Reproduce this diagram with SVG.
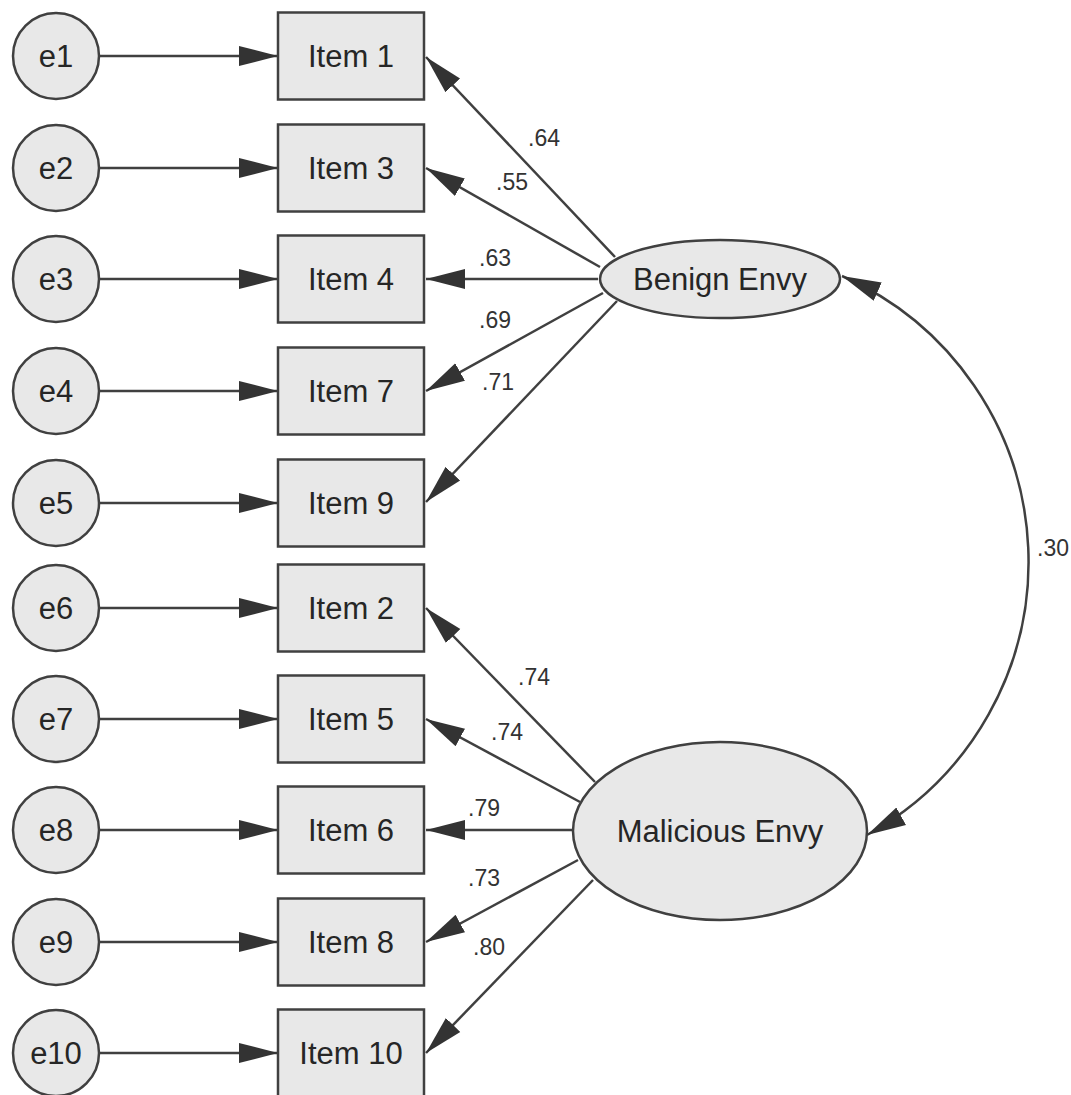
<svg xmlns="http://www.w3.org/2000/svg" width="1071" height="1095" viewBox="0 0 1071 1095">
<style>
.nd{fill:#e8e8e8;stroke:#404040;stroke-width:2.5}
.t{font-family:"Liberation Sans",Arial,sans-serif;font-size:31px;fill:#262626;text-anchor:middle;dominant-baseline:central}
.lb{font-family:"Liberation Sans",Arial,sans-serif;font-size:23px;fill:#333;text-anchor:middle;dominant-baseline:central}
.ln{fill:none;stroke:#404040;stroke-width:2.5}
</style>
<defs>
<marker id="ah" markerUnits="userSpaceOnUse" markerWidth="40" markerHeight="22" viewBox="0 0 40 22" refX="39" refY="11" orient="auto-start-reverse">
<path d="M0,1 L39,11 L0,21 z" fill="#333"/>
</marker>
</defs>
<rect width="1071" height="1095" fill="#fff"/>
<g id="connectors">
<line class="ln" x1="100" y1="56" x2="278" y2="56" marker-end="url(#ah)"/>
<line class="ln" x1="100" y1="168" x2="278" y2="168" marker-end="url(#ah)"/>
<line class="ln" x1="100" y1="279" x2="278" y2="279" marker-end="url(#ah)"/>
<line class="ln" x1="100" y1="391" x2="278" y2="391" marker-end="url(#ah)"/>
<line class="ln" x1="100" y1="503" x2="278" y2="503" marker-end="url(#ah)"/>
<line class="ln" x1="100" y1="608" x2="278" y2="608" marker-end="url(#ah)"/>
<line class="ln" x1="100" y1="719" x2="278" y2="719" marker-end="url(#ah)"/>
<line class="ln" x1="100" y1="830" x2="278" y2="830" marker-end="url(#ah)"/>
<line class="ln" x1="100" y1="942" x2="278" y2="942" marker-end="url(#ah)"/>
<line class="ln" x1="100" y1="1053" x2="278" y2="1053" marker-end="url(#ah)"/>
<line class="ln" x1="615" y1="257" x2="426" y2="57" marker-end="url(#ah)"/>
<line class="ln" x1="600" y1="267" x2="426" y2="168" marker-end="url(#ah)"/>
<line class="ln" x1="598" y1="279" x2="426" y2="279" marker-end="url(#ah)"/>
<line class="ln" x1="603" y1="293" x2="426" y2="391" marker-end="url(#ah)"/>
<line class="ln" x1="617" y1="301" x2="426" y2="502" marker-end="url(#ah)"/>
<line class="ln" x1="595" y1="782" x2="426" y2="608" marker-end="url(#ah)"/>
<line class="ln" x1="580" y1="802" x2="426" y2="719" marker-end="url(#ah)"/>
<line class="ln" x1="573" y1="830" x2="426" y2="830" marker-end="url(#ah)"/>
<line class="ln" x1="578" y1="860" x2="426" y2="942" marker-end="url(#ah)"/>
<line class="ln" x1="593" y1="880" x2="426" y2="1053" marker-end="url(#ah)"/>
<path class="ln" d="M842,276 A312,312 0 0 1 867,835" marker-start="url(#ah)" marker-end="url(#ah)"/>
<text class="lb" x="544" y="138">.64</text>
<text class="lb" x="512" y="182">.55</text>
<text class="lb" x="495" y="258">.63</text>
<text class="lb" x="495" y="320">.69</text>
<text class="lb" x="498" y="382">.71</text>
<text class="lb" x="534" y="677">.74</text>
<text class="lb" x="507" y="732">.74</text>
<text class="lb" x="484" y="808">.79</text>
<text class="lb" x="484" y="878">.73</text>
<text class="lb" x="489" y="947">.80</text>
<text class="lb" x="1053" y="548">.30</text>
</g>
<g id="e1"><circle class="nd" cx="56" cy="56" r="43"/><text class="t" x="56" y="56">e1</text></g>
<g id="e2"><circle class="nd" cx="56" cy="168" r="43"/><text class="t" x="56" y="168">e2</text></g>
<g id="e3"><circle class="nd" cx="56" cy="279" r="43"/><text class="t" x="56" y="279">e3</text></g>
<g id="e4"><circle class="nd" cx="56" cy="391" r="43"/><text class="t" x="56" y="391">e4</text></g>
<g id="e5"><circle class="nd" cx="56" cy="503" r="43"/><text class="t" x="56" y="503">e5</text></g>
<g id="e6"><circle class="nd" cx="56" cy="608" r="43"/><text class="t" x="56" y="608">e6</text></g>
<g id="e7"><circle class="nd" cx="56" cy="719" r="43"/><text class="t" x="56" y="719">e7</text></g>
<g id="e8"><circle class="nd" cx="56" cy="830" r="43"/><text class="t" x="56" y="830">e8</text></g>
<g id="e9"><circle class="nd" cx="56" cy="942" r="43"/><text class="t" x="56" y="942">e9</text></g>
<g id="e10"><circle class="nd" cx="56" cy="1053" r="43"/><text class="t" x="56" y="1053">e10</text></g>
<g id="item1"><rect class="nd" x="278" y="12.5" width="146" height="87"/><text class="t" x="351" y="56">Item 1</text></g>
<g id="item3"><rect class="nd" x="278" y="124.5" width="146" height="87"/><text class="t" x="351" y="168">Item 3</text></g>
<g id="item4"><rect class="nd" x="278" y="235.5" width="146" height="87"/><text class="t" x="351" y="279">Item 4</text></g>
<g id="item7"><rect class="nd" x="278" y="347.5" width="146" height="87"/><text class="t" x="351" y="391">Item 7</text></g>
<g id="item9"><rect class="nd" x="278" y="459.5" width="146" height="87"/><text class="t" x="351" y="503">Item 9</text></g>
<g id="item2"><rect class="nd" x="278" y="564.5" width="146" height="87"/><text class="t" x="351" y="608">Item 2</text></g>
<g id="item5"><rect class="nd" x="278" y="675.5" width="146" height="87"/><text class="t" x="351" y="719">Item 5</text></g>
<g id="item6"><rect class="nd" x="278" y="786.5" width="146" height="87"/><text class="t" x="351" y="830">Item 6</text></g>
<g id="item8"><rect class="nd" x="278" y="898.5" width="146" height="87"/><text class="t" x="351" y="942">Item 8</text></g>
<g id="item10"><rect class="nd" x="278" y="1009.5" width="146" height="87"/><text class="t" x="351" y="1053">Item 10</text></g>
<g id="benign"><ellipse class="nd" cx="720" cy="279" rx="120" ry="39"/><text class="t" x="720" y="279">Benign Envy</text></g>
<g id="malicious"><ellipse class="nd" cx="720" cy="831" rx="147" ry="89"/><text class="t" x="720" y="831">Malicious Envy</text></g>
</svg>
